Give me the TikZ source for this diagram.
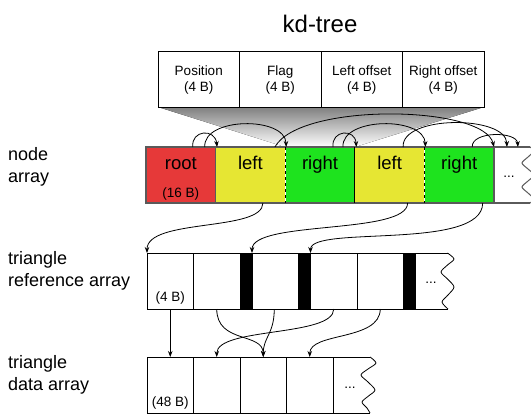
\documentclass[tikz,border=0pt]{standalone}
\usepackage{fontspec}
\setmainfont{Liberation Sans}
\usetikzlibrary{arrows.meta,calc}
\definecolor{rootred}{HTML}{E63939}
\definecolor{leftyellow}{HTML}{E6E633}
\definecolor{rightgreen}{HTML}{1EE31E}
\definecolor{nodeedge}{HTML}{5A5A5A}
\definecolor{shade}{HTML}{CCCCCC}
\begin{document}
\begin{tikzpicture}[x=1bp,y=-1bp,
  fieldbox/.style={draw=black, line width=0.8bp, fill=white, minimum width=81.5bp,
    minimum height=56bp, inner sep=0, outer sep=0, anchor=north west},
  ncell/.style={draw=nodeedge, line width=1.2bp, minimum width=69.6bp,
    minimum height=56bp, inner sep=0, outer sep=0, anchor=north west},
  rcell/.style={draw=black, line width=0.8bp, fill=white, minimum width=46.5bp,
    minimum height=56bp, inner sep=0, outer sep=0, anchor=north west},
  sepbar/.style={draw=black, line width=0.8bp, fill=black, minimum width=12bp,
    minimum height=56bp, inner sep=0, outer sep=0, anchor=north west},
  tailcell/.style={minimum height=56bp, inner sep=0, outer sep=0, anchor=north west},
  arr/.style={-{Stealth[length=6bp,width=4.5bp]}, line width=0.8bp},
  bigtxt/.style={font=\fontsize{18.5bp}{22bp}\selectfont, anchor=base, inner sep=0},
  smalltxt/.style={font=\fontsize{13.5bp}{16bp}\selectfont, anchor=base, inner sep=0},
  sidetxt/.style={font=\fontsize{18bp}{22bp}\selectfont, anchor=base west, inner sep=0},
  titletxt/.style={font=\fontsize{24bp}{28bp}\selectfont, anchor=base, inner sep=0}]
\useasboundingbox (0,0) rectangle (531,414);

% title and side labels
\node[titletxt] (title) at (320,32) {kd-tree};
\node[sidetxt] (lblnodeA) at (8,160) {node};
\node[sidetxt] (lblnodeB) at (8,182) {array};
\node[sidetxt] (lblrefA) at (8,264) {triangle};
\node[sidetxt] (lblrefB) at (8,286) {reference array};
\node[sidetxt] (lbldataA) at (8,368) {triangle};
\node[sidetxt] (lbldataB) at (8,390) {data array};

% corners of the expanded node
\coordinate (n2nw) at (285.2,147);
\coordinate (n2ne) at (354.8,147);

% shading that links the field layout to one node
\fill[shade] (158,107) -- (484,107) -- (n2ne) -- (n2nw) -- cycle;

% node layout fields
\node[fieldbox] (f0) at (158,51) {};
\node[fieldbox] (f1) at (239.5,51) {};
\node[fieldbox] (f2) at (321,51) {};
\node[fieldbox] (f3) at (402.5,51) {};
\foreach \i/\a in {0/Position,1/Flag,2/Left offset,3/Right offset}{
  \node[smalltxt] (ft\i) at ($(f\i.north)+(0,24)$) {\a};
  \node[smalltxt] (fs\i) at ($(f\i.north)+(0,40)$) {(4 B)};
}

% node array
\node[ncell, fill=rootred] (n0) at (146,147) {};
\node[ncell, fill=leftyellow] (n1) at (215.6,147) {};
\node[ncell, fill=rightgreen] (n2) at (285.2,147) {};
\node[ncell, fill=leftyellow] (n3) at (354.8,147) {};
\node[ncell, fill=rightgreen] (n4) at (424.4,147) {};
\node[tailcell, minimum width=36bp] (n5) at (494,147) {};
\draw[nodeedge, line width=1.2bp] (n4.north east) -- (n5.north east)
  (n4.south east) -- (n5.south east);
\draw[nodeedge, line width=1bp] plot[smooth] coordinates {(530,147) (534,151) (528,157)
  (522,163) (528,169) (534,175) (528,181) (522,187) (528,193) (534,199) (530,203)};
\draw[white, line width=1.3bp] (n1.north east) -- (n1.south east)
  (n3.north east) -- (n3.south east);
\draw[black, line width=1.3bp, dash pattern=on 3bp off 3bp] (n1.north east) -- (n1.south east)
  (n3.north east) -- (n3.south east);
\draw[black, line width=0.9bp] (n2.north east) -- (n2.south east);

\node[bigtxt] (t0) at ($(n0.north)+(0,22)$) {root};
\node[smalltxt] (s0) at ($(n0.north)+(0,50)$) {(16 B)};
\node[bigtxt] (t1) at ($(n1.north)+(0,22)$) {left};
\node[bigtxt] (t2) at ($(n2.north)+(0,22)$) {right};
\node[bigtxt] (t3) at ($(n3.north)+(0,22)$) {left};
\node[bigtxt] (t4) at ($(n4.north)+(0,22)$) {right};
\node[smalltxt] (t5) at (509,177) {...};

% triangle reference array
\node[rcell] (r0) at (147,253) {};
\node[rcell] (r1) at (193.5,253) {};
\node[sepbar] (b1) at (240,253) {};
\node[rcell] (r2) at (252,253) {};
\node[sepbar] (b2) at (298.5,253) {};
\node[rcell] (r3) at (310.5,253) {};
\node[rcell] (r4) at (357,253) {};
\node[sepbar] (b3) at (403.5,253) {};
\node[tailcell, minimum width=32bp] (r5) at (415.5,253) {};
\draw[black, line width=0.8bp] (b3.north east) -- (r5.north east)
  (b3.south east) -- (r5.south east);
\draw[black, line width=0.8bp] plot[smooth] coordinates {(447.5,253) (454,259) (447.5,265)
  (441,272) (447.5,279) (454,287) (448,295) (442,302) (448,309)};
\node[smalltxt] (rs0) at ($(r0.north)+(0,48)$) {(4 B)};
\node[smalltxt] (rt5) at (431,283) {...};

% triangle data array
\node[rcell] (d0) at (147,357) {};
\node[rcell] (d1) at (193.5,357) {};
\node[rcell] (d2) at (240,357) {};
\node[rcell] (d3) at (286.5,357) {};
\node[tailcell, minimum width=37bp] (d4) at (333,357) {};
\draw[black, line width=0.8bp] (d3.north east) -- (d4.north east)
  (d3.south east) -- (d4.south east);
\draw[black, line width=0.8bp] plot[smooth] coordinates {(370,357) (376,363) (368,369)
  (361,375) (368,382) (375,390) (368.5,396) (362,402) (367,408) (370,413)};
\node[smalltxt] (ds0) at ($(d0.north)+(0,49)$) {(48 B)};
\node[smalltxt] (dt4) at (350,388) {...};

% child links inside the node array
\draw[arr] ([xshift=47]n0.north west) .. controls +(-2,-17) and +(-2,-19) .. ([xshift=1.5]n1.north west);
\draw[arr] ([xshift=59]n0.north west) .. controls +(-2,-30) and +(-1,-31) .. ([xshift=1]n2.north west);
\draw[arr] ([xshift=59.5]n1.north west) .. controls +(25,-45) and +(-10,-42) .. ([xshift=0]n5.north west);
\draw[arr] ([xshift=48]n2.north west) .. controls +(-2,-17) and +(-1,-19) .. ([xshift=1.5]n3.north west);
\draw[arr] ([xshift=58]n2.north west) .. controls +(-2,-30) and +(-1,-31) .. ([xshift=1]n4.north west);
\draw[arr] ([xshift=48.5]n3.north west) .. controls +(-2,-32) and +(-1,-32) .. ([xshift=13]n5.north west);
\draw[arr] ([xshift=48]n4.north west) .. controls +(-1,-16) and +(-1,-16) .. ([xshift=24]n5.north west);

% leaves to triangle references
\draw[arr] ([xshift=47.5]n1.south west) .. controls +(0,29) and +(0,-35) .. (r0.north west);
\draw[arr] ([xshift=53]n3.south west) .. controls +(0,32) and +(0,-33) .. (r2.north west);
\draw[arr] ([xshift=58.5]n4.south west) .. controls +(0,48) and +(0,-28) .. (r3.north west);

% triangle references to triangle data
\draw[arr] (r0.south) -- (d0.north);
\draw[arr] (r1.south) .. controls +(0,35) and +(0,-25) .. (d2.north);
\draw[arr] ([xshift=-1]r2.south) .. controls +(0,25) and +(0,-20) .. (d2.north);
\draw[arr] (r3.south) .. controls +(0,28) and +(0,-30) .. (d1.north);
\draw[arr] (r4.south) .. controls +(0,32) and +(0,-25) .. (d3.north);
\end{tikzpicture}
\end{document}
